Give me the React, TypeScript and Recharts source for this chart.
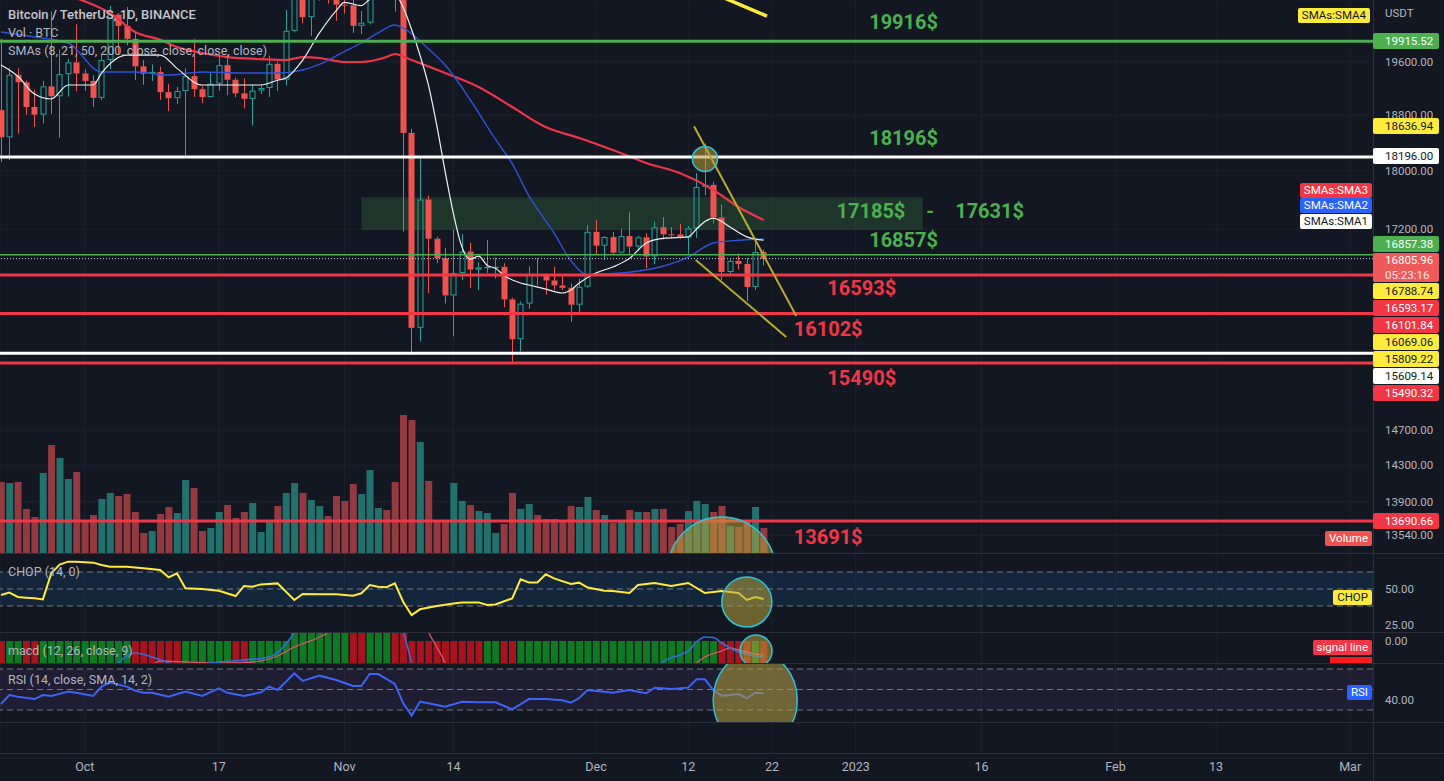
import {
  Bar, CartesianGrid, ComposedChart, Line, ReferenceArea, ReferenceDot, ReferenceLine, XAxis, YAxis,
} from "recharts";

// ---- page / pane geometry
const W = 1444;
const AXIS_W = 71;
const PLOT_W = W - AXIS_W;
const PX_PER_DAY = 8.38;
const DAY_MIN = -0.12;
const DAY_MAX = DAY_MIN + PLOT_W / PX_PER_DAY;
const MAIN_H = 553;
const CHOP_H = 79;
const MACD_H = 31;
const RSI_H = 59;
const EMPTY_H = 31;
const XAX_H = 28;

const FONT = "Roboto, 'Noto Sans', sans-serif";
const BG = "#131722";
const GRID = "#1d212c";
const SEP = "#2a2e39";
const TXT = "#b2b5be";
const UP = "#26a69a";
const DOWN = "#ef5350";
const GREEN = "#4caf50";
const RED = "#f23645";
const WHITE = "#ffffff";
const YELLOW = "#ffeb3b";
const BLUE = "#2962ff";
const DRAW_FILL = "rgba(180,160,60,0.55)";
const DRAW_STROKE = "#2ec4d6";

// ---- axis ranges
const P_MIN = 13353.7;
const P_MAX = 20569.7;
const VOL_TOP = 2212;
const priceTicks = [19600, 18800, 18000, 17200, 14700, 14300, 13900, 13540];

// day 0 = 21 Sep 2022
const tickDays = [10, 26, 41, 54, 71, 82, 92, 102, 117, 133, 145, 161];
const tickLabels = ["Oct", "17", "Nov", "14", "Dec", "12", "22", "2023", "16", "Feb", "13", "Mar"];

// ---- BTCUSDT daily candles, 21 Sep .. 21 Dec
const open = [
  18874, 18477, 19402, 19289, 18920, 18807, 19227, 19079, 19412, 19591,
  19422, 19310, 19056, 19629, 20337, 20158, 19955, 19531, 19417, 19446,
  19141, 19051, 19157, 19382, 19185, 19067, 19268, 19549, 19327, 19123,
  19041, 19164, 19204, 19570, 19330, 20080, 20771, 20295, 20595, 20818,
  20635, 20495, 20485, 20159, 20209, 21148, 21300, 20905, 20591, 18541,
  15922, 17601, 17070, 16812, 16330, 16620, 16900, 16663, 16692, 16700,
  16700, 16280, 15781, 16226, 16603, 16598, 16522, 16458, 16428, 16212,
  16442, 17163, 16977, 17092, 16885, 17105, 16966, 17089, 16836, 17224,
  17128, 17127, 17085, 17209, 17775, 17803, 17356, 16632, 16776, 16738,
  16439, 16895,
];
const high = [
  19956, 19500, 19500, 19316, 19180, 19310, 20385, 19790, 19645, 20185,
  19484, 19395, 19719, 20475, 20365, 20456, 20055, 19627, 19560, 19526,
  19266, 19220, 19500, 19951, 19228, 19425, 19676, 19707, 19360, 19347,
  19250, 19257, 19695, 19601, 20415, 21020, 20877, 20750, 21086, 20930,
  20840, 20700, 20800, 20393, 21302, 21480, 21365, 21069, 20700, 18600,
  18195, 17655, 17098, 16950, 17190, 17133, 17017, 16758, 17050, 16820,
  16746, 16300, 16253, 16706, 16812, 16611, 16701, 16600, 16484, 16548,
  17250, 17320, 17105, 17159, 17202, 17424, 17107, 17142, 17299, 17360,
  17227, 17270, 17241, 17970, 18387, 17847, 17531, 16800, 16875, 16815,
  17061, 16923,
];
const low = [
  18125, 18152, 18531, 18805, 18629, 18680, 18816, 18471, 19073, 19156,
  19160, 18920, 19022, 19490, 19730, 19853, 19320, 19252, 19310, 19026,
  18860, 18965, 18190, 19070, 18975, 19064, 19160, 19095, 19065, 18900,
  18650, 19111, 19070, 19157, 19243, 20055, 20200, 20000, 20560, 20512,
  20237, 20355, 20048, 20031, 20180, 21080, 20880, 20384, 17166, 15588,
  15754, 16361, 16749, 16229, 15815, 16527, 16425, 16400, 16621, 16547,
  16180, 15476, 15632, 16160, 16458, 16342, 16400, 16400, 15995, 16100,
  16428, 16855, 16787, 16866, 16878, 16867, 16906, 16678, 16733, 17060,
  17092, 17071, 16871, 17080, 17660, 17275, 16527, 16584, 16663, 16256,
  16397, 16715,
];
const close = [
  18477, 19402, 19289, 18920, 18807, 19227, 19079, 19412, 19591, 19422,
  19310, 19056, 19629, 20337, 20158, 19955, 19531, 19417, 19446, 19141,
  19051, 19157, 19382, 19185, 19067, 19268, 19549, 19327, 19123, 19041,
  19164, 19204, 19570, 19330, 20080, 20771, 20295, 20595, 20818, 20635,
  20495, 20485, 20159, 20209, 21148, 21300, 20905, 20591, 18541, 15922,
  17601, 17070, 16812, 16330, 16620, 16900, 16663, 16692, 16700, 16700,
  16280, 15781, 16226, 16603, 16598, 16522, 16458, 16428, 16212, 16442,
  17163, 16977, 17092, 16885, 17105, 16966, 17089, 16836, 17224, 17128,
  17127, 17085, 17209, 17775, 17803, 17356, 16632, 16776, 16738, 16439,
  16895, 16806,
];
// volume, thousand BTC
const volume = [
  284, 280, 284, 176, 144, 320, 432, 380, 296, 324,
  128, 152, 216, 240, 228, 236, 164, 80, 88, 156,
  184, 160, 292, 260, 88, 100, 164, 192, 140, 164,
  200, 84, 124, 188, 240, 280, 240, 212, 188, 148,
  228, 208, 276, 236, 332, 180, 172, 284, 552, 532,
  444, 288, 128, 132, 280, 208, 192, 168, 160, 80,
  116, 240, 176, 196, 152, 136, 136, 128, 188, 184,
  224, 172, 152, 120, 128, 172, 164, 164, 176, 176,
  104, 116, 168, 208, 196, 164, 188, 108, 104, 128,
  184, 100,
];

// ---- moving averages, [day, value]
const sma8: [number, number][] = [
  [0, 19551], [2, 19380], [4, 19113], [6, 19039], [8, 19248], [11, 19248], [12, 19429], [15, 19704],
  [19, 19704], [21, 19500], [24, 19248], [31, 19248], [33, 19320], [34, 19353], [36, 19627], [38, 20047],
  [40, 20400], [41, 20530], [43, 20480], [44, 20580], [45, 20640], [46, 20667], [47, 20660], [48, 20450],
  [49, 20100], [50, 19700], [51, 19250], [52, 18650], [53, 17990], [54, 17400], [55, 16960], [56, 16800],
  [57, 16840], [58, 16720], [59, 16680], [60, 16590], [62, 16490], [63, 16464], [65, 16410], [67, 16361],
  [68, 16400], [69, 16490], [71, 16619], [73, 16696], [75, 16810], [77, 17013], [79, 17075], [82, 17094],
  [83, 17200], [84, 17300], [85, 17348], [86, 17300], [87, 17227], [89, 17094], [91, 17050],
];
const sma21: [number, number][] = [
  [0, 20062], [4, 19984], [8, 19890], [12, 19445], [16, 19445], [20, 19398], [24, 19445], [29, 19429],
  [33, 19429], [36, 19475], [38, 19560], [41, 19760], [43, 19890], [45, 20047], [47, 20172], [48, 20124],
  [51, 19800], [53, 19550], [56, 19024], [59, 18450], [61, 18100], [63, 17650], [66, 17146], [68, 16780],
  [70, 16600], [74, 16619], [78, 16680], [82, 16827], [85, 17013], [88, 17050], [91, 17066],
];
const sma50: [number, number][] = [
  [0, 21100], [5, 20800], [9, 20600], [13, 20361], [16, 20062], [19, 19940], [21, 19828], [24, 19736],
  [27, 19673], [31, 19642], [34, 19627], [36, 19673], [38, 19658], [41, 19597], [43, 19597], [46, 19673],
  [47, 19720], [49, 19627], [53, 19429], [57, 19218], [61, 18920], [65, 18626], [69, 18467], [73, 18295],
  [77, 18110], [81, 17968], [85, 17733], [88, 17498], [91, 17321],
];

// ---- indicators
const chop: [number, number][] = [
  [0, 45.8], [1, 47.5], [2, 44.5], [3, 44], [4, 43.5], [5, 42.8], [6, 61], [7, 67], [8, 69], [9, 69],
  [11, 68.3], [12, 66.7], [13, 65.5], [15, 65.5], [17, 64.4], [19, 63.2], [20, 58.1], [21, 60.9], [22, 50.5],
  [24, 50], [26, 48.8], [28, 45.1], [29, 52.1], [30, 51.6], [31, 53.2], [33, 53.9], [35, 42.4], [36, 46.5],
  [38, 46.3], [40, 46.3], [42, 45.4], [43, 47], [44, 52.8], [45, 51.6], [46, 51.2], [47, 53.9], [48, 41],
  [49, 31.9], [50, 35.9], [52, 38.2], [54, 40], [55, 40.7], [57, 40.7], [58, 38.9], [59, 39.3], [61, 43.5],
  [62, 56.7], [63, 54.6], [64, 54.6], [65, 60.2], [66, 57.4], [68, 53.5], [69, 54.4], [70, 51], [72, 48.8],
  [73, 48.6], [75, 47.2], [76, 52.8], [78, 54.2], [80, 52.1], [82, 54.2], [84, 47.2], [86, 48.6], [88, 47.2],
  [89, 42.4], [90, 44.4], [91, 43],
];
const macdLine: [number, number][] = [
  [12, -45], [14, -22], [16, -12], [18, -16], [20, -22], [22, -32], [25, -22], [29, -19], [32, -16],
  [34, -3], [35, 9], [36, 30], [47, 30], [48, 9], [49, -22], [50, -60], [77, -50], [79, -21], [81, -14],
  [82, -10], [83, -1], [84, 4], [85, 3.5], [86, -2], [87, -7], [88, -11], [89, -13], [90, -15], [91, -16],
];
const signalLine: [number, number][] = [
  [17, -35], [19, -20], [22, -21], [27, -22], [30, -21], [33, -15], [35, -6], [38, 4], [39, 9], [40, 30],
  [50, 30], [51, 9], [52, -6], [53, -22], [54, -45], [81, -40], [83, -22], [84, -16], [86, -10], [87, -7],
  [88, -9], [89, -11], [90, -13], [91, -14],
];
// histogram column colour per day (g = green, r = red); days 35..48 fill the whole pane
const macdColors = "rggrrgggggggggggrrrrrrggggggrrggggggggggggrrgggrrrrrrrrrrrggrrggggggggggggggggggggggggrrrrgr";
const macdTallDays = [35, 48];
const rsi: [number, number][] = [
  [0, 35.9], [1, 44.6], [2, 43], [4, 40.7], [5, 44.6], [6, 43.7], [8, 47.9], [9, 46.9], [11, 43.7],
  [12, 52.8], [13, 56.7], [15, 52.8], [16, 48.9], [17, 46.9], [18, 46.9], [20, 43], [22, 47.9], [24, 43.7],
  [26, 51.1], [27, 46.9], [29, 43.7], [31, 47.2], [32, 52.8], [33, 49.5], [35, 65.8], [36, 58.3], [38, 63.5],
  [40, 59.3], [42, 53.4], [43, 53.4], [44, 65.1], [45, 65.1], [47, 55.4], [48, 36.5], [49, 24.5], [50, 38.1],
  [51, 36.5], [53, 33.2], [55, 38.1], [57, 37.5], [59, 37.5], [61, 30.7], [63, 40.7], [65, 40.7], [67, 39.5],
  [68, 37.1], [69, 41.7], [70, 49.5], [72, 47.9], [73, 46.9], [75, 49.5], [76, 47.9], [77, 46.3], [78, 51.8],
  [80, 50.5], [82, 51.8], [83, 59.9], [84, 59.9], [85, 49.5], [86, 44], [87, 44.6], [88, 45.6], [89, 41.4],
  [90, 46.9], [91, 46.3],
];

// ---- drawings on the price pane
const levels = [
  { p: 19915.52, c: GREEN, w: 3 },
  { p: 18196.0, c: WHITE, w: 3 },
  { p: 16857.38, c: GREEN, w: 1.5 },
  { p: 16805.96, c: "#d1d4dc", w: 1, dash: "1 2" },
  { p: 16593.17, c: RED, w: 3 },
  { p: 16101.84, c: RED, w: 3 },
  { p: 15609.14, c: WHITE, w: 3 },
  { p: 15490.32, c: RED, w: 3 },
  { p: 13690.66, c: RED, w: 3 },
];
const notes = [
  { t: "19916$", d: 103.6, p: 20219, c: GREEN },
  { t: "18196$", d: 103.6, p: 18467, c: GREEN },
  { t: "17185$ - 17631$", d: 99.7, p: 17443, c: GREEN },
  { t: "16857$", d: 103.6, p: 17052, c: GREEN },
  { t: "16593$", d: 98.6, p: 16426, c: RED },
  { t: "16102$", d: 94.6, p: 15907, c: RED },
  { t: "15490$", d: 98.6, p: 15310, c: RED },
  { t: "13691$", d: 94.6, p: 13521, c: RED },
];
const axisTags = [
  { price: 19915.52, label: ["19915.52"], bg: GREEN, fg: WHITE },
  { price: 18636.94, label: ["18636.94"], bg: YELLOW, fg: BG },
  { price: 18196.0, label: ["18196.00"], bg: WHITE, fg: BG },
  { price: 16857.38, label: ["16857.38"], bg: GREEN, fg: WHITE },
  { price: 16805.96, label: ["16805.96", "05:23:16"], bg: "#ee5a5a", fg: WHITE },
  { price: 16788.74, label: ["16788.74"], bg: YELLOW, fg: BG },
  { price: 16593.17, label: ["16593.17"], bg: RED, fg: WHITE },
  { price: 16101.84, label: ["16101.84"], bg: RED, fg: WHITE },
  { price: 16069.06, label: ["16069.06"], bg: YELLOW, fg: BG },
  { price: 15809.22, label: ["15809.22"], bg: YELLOW, fg: BG },
  { price: 15609.14, label: ["15609.14"], bg: WHITE, fg: BG },
  { price: 15490.32, label: ["15490.32"], bg: RED, fg: WHITE },
  { price: 13690.66, label: ["13690.66"], bg: RED, fg: WHITE },
];

const toMap = (a: [number, number][]) => new Map(a);
const s8 = toMap(sma8), s21 = toMap(sma21), s50 = toMap(sma50);
const candles = open.map((o, i) => ({
  d: i, o, h: high[i], l: low[i], c: close[i], range: [low[i], high[i]], vol: volume[i],
  s8: s8.get(i), s21: s21.get(i), s50: s50.get(i),
}));
const pts = (a: [number, number][]) => a.map(([d, v]) => ({ d, v }));
const mLine = toMap(macdLine), mSig = toMap(signalLine);
const macdRows = macdColors.split("").map((col, d) => ({
  d, col, r: [-22, d >= macdTallDays[0] && d <= macdTallDays[1] ? 9 : 0], m: mLine.get(d), s: mSig.get(d),
}));
const axisRows = [{ d: DAY_MIN, z: 0 }, { d: DAY_MAX, z: 0 }];

const M = { top: 0, right: 0, bottom: 0, left: 0 };
const xProps = {
  dataKey: "d", type: "number" as const, domain: [DAY_MIN, DAY_MAX], allowDataOverflow: true,
  ticks: tickDays, interval: 0 as const,
};
const rightAxis = {
  orientation: "right" as const, width: AXIS_W, axisLine: false, tickLine: false, tickSize: 0,
  tickMargin: 12, interval: 0 as const, allowDataOverflow: true,
  tick: { fill: TXT, fontSize: 11.5, fontFamily: FONT },
  tickFormatter: (v: number) => v.toFixed(2),
};
const lineBase = { type: "monotone" as const, dot: false, activeDot: false, connectNulls: true, isAnimationActive: false };

function Candle(props: any) {
  const { x, y, width, height, payload } = props;
  if (x == null || y == null || !payload) return null;
  const top = Math.min(y, y + height);
  const span = Math.abs(height);
  const { o, h, l, c } = payload;
  const k = Math.log(h) - Math.log(l) || 1;
  const at = (p: number) => top + (span * (Math.log(h) - Math.log(p))) / k;
  const up = c >= o;
  const col = up ? UP : DOWN;
  const cx = Math.round(x + width / 2) + 0.5;
  const b1 = Math.min(at(o), at(c));
  const bh = Math.max(1, Math.abs(at(o) - at(c)));
  return (
    <g>
      <line x1={cx} x2={cx} y1={top} y2={b1} stroke={col} />
      <line x1={cx} x2={cx} y1={b1 + bh} y2={top + span} stroke={col} />
      {up ? (
        <rect x={cx - 2.5} y={b1 + 0.5} width={5} height={Math.max(bh - 1, 0.5)} fill="none" stroke={col} />
      ) : (
        <rect x={cx - 3} y={b1} width={6} height={bh} fill={col} />
      )}
    </g>
  );
}

function VolBar(props: any) {
  const { x, y, width, height, payload } = props;
  if (x == null || !payload) return null;
  return <rect x={x} y={y} width={width} height={height} fill={payload.c >= payload.o ? "#22716c" : "#923a3f"} />;
}

function MacdCol(props: any) {
  const { x, y, width, height, payload } = props;
  if (x == null || !payload) return null;
  return <rect x={x} y={Math.min(y, y + height)} width={width} height={Math.abs(height)} fill={payload.col === "g" ? "#0f7a22" : "#a8141e"} />;
}

const ring = (rx: number, ry: number) => (p: any) =>
  <ellipse cx={p.cx} cy={p.cy} rx={rx} ry={ry} fill={DRAW_FILL} stroke={DRAW_STROKE} strokeWidth={1.5} />;

const noteMark = (t: string, c: string) => (p: any) => (
  <text x={p.cx} y={p.cy} fill={c} fontSize={20} fontWeight={700} fontFamily={FONT}
    dominantBaseline="central" style={{ wordSpacing: 16 }}>{t}</text>
);

const vGrid = <CartesianGrid xAxisId="x" yAxisId="y" horizontal={false} stroke={GRID} />;

// price -> pixel, only to stack the axis tags like the terminal does
function priceY(p: number) {
  return (MAIN_H * (Math.log(P_MAX) - Math.log(p))) / (Math.log(P_MAX) - Math.log(P_MIN));
}
function stackTags() {
  const items = axisTags.map((t) => ({ ...t, y: priceY(t.price), h: t.label.length > 1 ? 30 : 17 }))
    .sort((a, b) => a.y - b.y);
  const groups = items.map((it) => ({ items: [it], top: it.y - it.h / 2, h: it.h }));
  for (let merged = true; merged;) {
    merged = false;
    for (let i = 0; i + 1 < groups.length; i++) {
      const a = groups[i], b = groups[i + 1];
      if (a.top + a.h > b.top) {
        const its = [...a.items, ...b.items];
        const h = a.h + b.h;
        const mid = (its[0].y + its[its.length - 1].y) / 2;
        const pushed = its[0].y - its[0].h / 2 + h / 2;
        groups.splice(i, 2, { items: its, top: (mid + pushed) / 2 - h / 2, h });
        merged = true;
        break;
      }
    }
  }
  const out: any[] = [];
  for (const g of groups) {
    let t = g.top;
    for (const it of g.items) { out.push({ ...it, top: t }); t += it.h; }
  }
  return out;
}

const paneTags = [
  { t: "SMAs:SMA4", top: 8, right: 74, bg: YELLOW, fg: BG },
  { t: "SMAs:SMA3", top: 183, right: 72, bg: RED, fg: WHITE },
  { t: "SMAs:SMA2", top: 198, right: 72, bg: BLUE, fg: WHITE },
  { t: "SMAs:SMA1", top: 214, right: 72, bg: WHITE, fg: BG },
  { t: "Volume", top: 531, right: 72, bg: "#ef5350", fg: WHITE },
  { t: "CHOP", top: 590, right: 72, bg: YELLOW, fg: BG },
  { t: "signal line", top: 640, right: 72, bg: RED, fg: WHITE },
  { t: "RSI", top: 685, right: 72, bg: BLUE, fg: WHITE },
];
const legends = [
  { t: "Bitcoin / TetherUS, 1D, BINANCE", top: 7, c: "#c3c6ce", w: 500, s: 13 },
  { t: "Vol · BTC", top: 25, c: TXT, w: 400, s: 12.5 },
  { t: "SMAs (8, 21, 50, 200, close, close, close, close)", top: 43, c: TXT, w: 400, s: 12.5 },
  { t: "CHOP (14, 0)", top: 564, c: TXT, w: 400, s: 12.5 },
  { t: "macd (12, 26, close, 9)", top: 643, c: TXT, w: 400, s: 12.5 },
  { t: "RSI (14, close, SMA, 14, 2)", top: 672, c: TXT, w: 400, s: 12.5 },
];

export default function App() {
  const tags = stackTags();
  const y0 = MAIN_H, y1 = y0 + CHOP_H, y2 = y1 + MACD_H, y3 = y2 + RSI_H;
  return (
    <div style={{ position: "fixed", left: 0, top: 0, width: W, height: 781, background: BG, overflow: "hidden", fontFamily: FONT }}>
      <div style={{ position: "absolute", left: 0, top: 0 }}>
        <ComposedChart width={W} height={MAIN_H} data={candles} margin={M}>
          <XAxis xAxisId="x" {...xProps} hide />
          <XAxis xAxisId="xv" {...xProps} hide />
          <YAxis yAxisId="p" {...rightAxis} scale="log" domain={[P_MIN, P_MAX]} ticks={priceTicks} />
          <YAxis yAxisId="vol" hide domain={[0, VOL_TOP]} allowDataOverflow />
          <CartesianGrid xAxisId="x" yAxisId="p" stroke={GRID} />
          <ReferenceArea xAxisId="x" yAxisId="p" x1={43} x2={110} y1={17185} y2={17631} fill={GREEN} fillOpacity={0.2} stroke="none" />
          <Bar xAxisId="xv" yAxisId="vol" dataKey="vol" barSize={7} shape={VolBar} isAnimationActive={false} />
          <Bar xAxisId="x" yAxisId="p" dataKey="range" barSize={6} shape={Candle} isAnimationActive={false} />
          <Line xAxisId="x" yAxisId="p" dataKey="s50" stroke="#f0344a" strokeWidth={2.2} {...lineBase} />
          <Line xAxisId="x" yAxisId="p" dataKey="s21" stroke="#2f52d8" strokeWidth={1.4} {...lineBase} />
          <Line xAxisId="x" yAxisId="p" dataKey="s8" stroke="#f0f0f0" strokeWidth={1.2} {...lineBase} />
          {levels.map((l) => (
            <ReferenceLine key={l.p} xAxisId="x" yAxisId="p" y={l.p} stroke={l.c} strokeWidth={l.w} strokeDasharray={l.dash} />
          ))}
          <ReferenceLine xAxisId="x" yAxisId="p" segment={[{ x: 82.7, y: 18636.94 }, { x: 94.9, y: 16069.06 }]} stroke="#b8aa30" strokeWidth={2} ifOverflow="hidden" />
          <ReferenceLine xAxisId="x" yAxisId="p" segment={[{ x: 82.9, y: 16788.74 }, { x: 93.7, y: 15809.22 }]} stroke="#b8aa30" strokeWidth={2} ifOverflow="hidden" />
          <ReferenceLine xAxisId="x" yAxisId="p" segment={[{ x: 86.0, y: 20620 }, { x: 91.4, y: 20313 }]} stroke={YELLOW} strokeWidth={3.5} ifOverflow="hidden" />
          <ReferenceDot xAxisId="x" yAxisId="p" x={84} y={18167} r={12.5} shape={ring(12.5, 12.5)} ifOverflow="visible" />
          <ReferenceDot xAxisId="xv" yAxisId="vol" x={86} y={-72} r={54} shape={ring(54, 54)} ifOverflow="visible" />
          {notes.map((n) => (
            <ReferenceDot key={n.t} xAxisId="x" yAxisId="p" x={n.d} y={n.p} r={1} shape={noteMark(n.t, n.c)} ifOverflow="visible" />
          ))}
        </ComposedChart>
      </div>

      <div style={{ position: "absolute", left: 0, top: y0 }}>
        <ComposedChart width={W} height={CHOP_H} data={pts(chop)} margin={M}>
          <XAxis xAxisId="x" {...xProps} hide />
          <YAxis yAxisId="y" {...rightAxis} domain={[20.14, 75]} ticks={[25, 50]} />
          {vGrid}
          <ReferenceArea xAxisId="x" yAxisId="y" y1={38.2} y2={61.8} fill="#2196f3" fillOpacity={0.12} stroke="none" />
          {[61.8, 50, 38.2].map((v) => (
            <ReferenceLine key={v} xAxisId="x" yAxisId="y" y={v} stroke="#787b86" strokeDasharray="6 4" />
          ))}
          <Line xAxisId="x" yAxisId="y" dataKey="v" stroke={YELLOW} strokeWidth={2} {...lineBase} type="linear" />
          <ReferenceDot xAxisId="x" yAxisId="y" x={89} y={41} r={25} shape={ring(25, 25)} ifOverflow="visible" />
        </ComposedChart>
      </div>

      <div style={{ position: "absolute", left: 0, top: y1 }}>
        <ComposedChart width={W} height={MACD_H} data={macdRows} margin={M}>
          <XAxis xAxisId="x" {...xProps} hide />
          <YAxis yAxisId="y" {...rightAxis} domain={[-22, 9]} ticks={[0]} />
          {vGrid}
          <Bar xAxisId="x" yAxisId="y" dataKey="r" barSize={7} shape={MacdCol} isAnimationActive={false} />
          <Line xAxisId="x" yAxisId="y" dataKey="s" stroke="#e0566a" strokeWidth={1.3} {...lineBase} />
          <Line xAxisId="x" yAxisId="y" dataKey="m" stroke="#2f6fe0" strokeWidth={1.6} {...lineBase} />
          <ReferenceDot xAxisId="x" yAxisId="y" x={90.1} y={-10} r={16} shape={ring(16, 16)} ifOverflow="visible" />
        </ComposedChart>
      </div>

      <div style={{ position: "absolute", left: 0, top: y2 }}>
        <ComposedChart width={W} height={RSI_H} data={pts(rsi)} margin={M}>
          <XAxis xAxisId="x" {...xProps} hide />
          <YAxis yAxisId="y" {...rightAxis} domain={[18.29, 75.85]} ticks={[40]} />
          {vGrid}
          <ReferenceArea xAxisId="x" yAxisId="y" y1={30} y2={70} fill="#7e57c2" fillOpacity={0.1} stroke="none" />
          {[70, 50, 30].map((v) => (
            <ReferenceLine key={v} xAxisId="x" yAxisId="y" y={v} stroke="#787b86" strokeDasharray="6 4" />
          ))}
          <Line xAxisId="x" yAxisId="y" dataKey="v" stroke="#3d63f5" strokeWidth={2} {...lineBase} type="linear" />
          <ReferenceDot xAxisId="x" yAxisId="y" x={90} y={39.8} r={42} shape={ring(42, 48)} ifOverflow="visible" />
        </ComposedChart>
      </div>

      <div style={{ position: "absolute", left: 0, top: y3 }}>
        <ComposedChart width={W} height={EMPTY_H + XAX_H} data={axisRows} margin={M}>
          <XAxis xAxisId="x" {...xProps} height={XAX_H} axisLine={false} tickLine={false} tickSize={0} tickMargin={9}
            tick={{ fill: TXT, fontSize: 12.5, fontFamily: FONT }}
            tickFormatter={(d: number) => tickLabels[tickDays.indexOf(d)] ?? ""} />
          <YAxis yAxisId="y" orientation="right" width={AXIS_W} tick={false} axisLine={false} tickLine={false} domain={[0, 1]} />
          {vGrid}
          <Line xAxisId="x" yAxisId="y" dataKey="z" stroke="none" {...lineBase} />
        </ComposedChart>
      </div>

      {/* pane separators */}
      {[y0, y1, y2, y3, y3 + EMPTY_H].map((y) => (
        <div key={y} style={{ position: "absolute", left: 0, top: y, width: W, height: 1, background: SEP }} />
      ))}
      <div style={{ position: "absolute", left: PLOT_W, top: 0, width: 1, height: 781, background: SEP }} />

      {legends.map((l) => (
        <div key={l.t} style={{ position: "absolute", left: 8, top: l.top, color: l.c, fontSize: l.s, fontWeight: l.w, whiteSpace: "pre", lineHeight: "16px" }}>{l.t}</div>
      ))}
      <div style={{ position: "absolute", left: 1385, top: 6, color: TXT, fontSize: 11.5 }}>USDT</div>

      {paneTags.map((p) => (
        <div key={p.t} style={{ position: "absolute", right: p.right, top: p.top, background: p.bg, color: p.fg, fontSize: 11.5, lineHeight: "15px", padding: "0 4px", borderRadius: 2, whiteSpace: "pre" }}>{p.t}</div>
      ))}
      <div style={{ position: "absolute", left: 1330, top: 657, width: 42, height: 6, background: "#ff1b1b" }} />

      {tags.map((t) => (
        <div key={t.price} style={{
          position: "absolute", left: PLOT_W, top: t.top, width: 66, height: t.h - 1, background: t.bg, color: t.fg,
          fontSize: 11.5, lineHeight: t.label.length > 1 ? "14.5px" : `${t.h - 1}px`, paddingLeft: 12, boxSizing: "border-box", borderRadius: 2,
        }}>
          {t.label.map((s: string, i: number) => <div key={s} style={{ opacity: i ? 0.85 : 1 }}>{s}</div>)}
        </div>
      ))}
    </div>
  );
}
